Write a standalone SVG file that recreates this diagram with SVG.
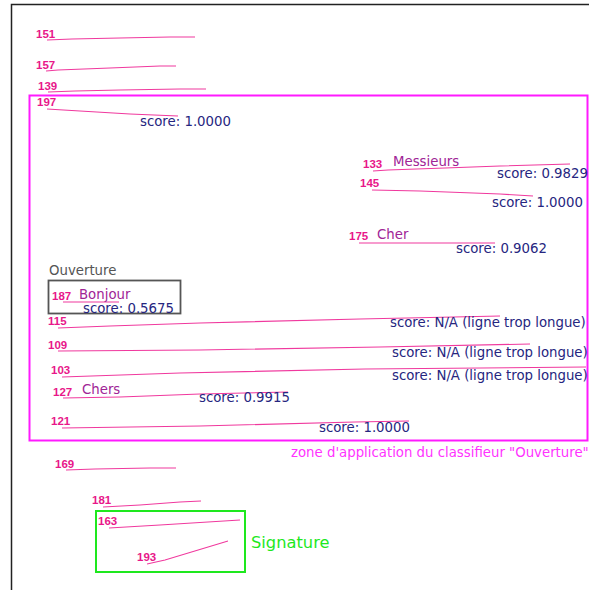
<svg xmlns="http://www.w3.org/2000/svg" width="595" height="590" viewBox="0 0 595 590">
<style>
.n{font-family:"Liberation Sans",Arial,sans-serif;font-weight:bold;font-size:11.5px;fill:#e8178a}
.w{font-family:"DejaVu Sans",sans-serif;font-size:13.3px;fill:#a02596}
.s{font-family:"DejaVu Sans",sans-serif;font-size:13.3px;fill:#262680}
.l{fill:none;stroke:#f0399e;stroke-width:1.1}
</style>
<rect width="595" height="590" fill="#fff"/>
<g id="frame" stroke="#222" stroke-width="1.5" fill="none">
<path d="M11.5,590 V4.5 H589"/>
</g>
<g id="zone-ouverture">
<rect x="29.5" y="95.5" width="558" height="345" fill="none" stroke="#ff1aff" stroke-width="2"/>
<text x="291" y="457" font-family="DejaVu Sans,sans-serif" font-size="13.3" fill="#ff33ff">zone d'application du classifieur "Ouverture"</text>
</g>
<g id="zone-bonjour">
<rect x="48.5" y="280.5" width="132" height="33" fill="none" stroke="#555" stroke-width="1.8"/>
<text x="49" y="275" font-family="DejaVu Sans,sans-serif" font-size="13.3" fill="#555">Ouverture</text>
</g>
<g id="zone-signature">
<rect x="96" y="511" width="149" height="61" fill="none" stroke="#1ee81e" stroke-width="2"/>
<text x="251" y="548" font-family="DejaVu Sans,sans-serif" font-size="16.3" fill="#1ee81e">Signature</text>
</g>
<g id="connectors">
<polyline class="l" points="47,40 72,39 120,38 170,37 195,37"/>
<polyline class="l" points="46,71 58,70 110,68 160,66 176,66"/>
<polyline class="l" points="48,92 75,91 120,90 180,89 206,89"/>
<polyline class="l" points="47,109 80,111 130,114 178,116"/>
<polyline class="l" points="373,171 388,170 445,168 500,166 570,164"/>
<polyline class="l" points="372,190 420,191 500,194 533,196"/>
<polyline class="l" points="359,243 427,243 495,243"/>
<polyline class="l" points="63,302 119,302"/>
<polyline class="l" points="58,328 110,326 200,323 360,319 500,316"/>
<polyline class="l" points="58,351 200,350 380,347 530,344"/>
<polyline class="l" points="62,377 180,373 365,369 586,367"/>
<polyline class="l" points="63,398 120,397 200,394 288,392"/>
<polyline class="l" points="62,428 200,426 355,422 409,421"/>
<polyline class="l" points="66,470 95,469 150,468 176,468"/>
<polyline class="l" points="103,507 140,505 180,502 201,501"/>
<polyline class="l" points="109,528 160,525 240,520"/>
<polyline class="l" points="147,564 165,560 228,541"/>
</g>
<g id="l151"><text class="n" x="36" y="38">151</text></g>
<g id="l157"><text class="n" x="36" y="69">157</text></g>
<g id="l139"><text class="n" x="38" y="90">139</text></g>
<g id="l197"><text class="n" x="37" y="106">197</text><text class="s" x="140" y="126">score: 1.0000</text></g>
<g id="l133"><text class="n" x="363" y="168">133</text><text class="w" x="393" y="166">Messieurs</text><text class="s" x="497" y="178">score: 0.9829</text></g>
<g id="l145"><text class="n" x="360" y="187">145</text><text class="s" x="492" y="207">score: 1.0000</text></g>
<g id="l175"><text class="n" x="349" y="240">175</text><text class="w" x="377" y="239">Cher</text><text class="s" x="456" y="253">score: 0.9062</text></g>
<g id="l187"><text class="n" x="52" y="300">187</text><text class="w" x="79" y="299">Bonjour</text><text class="s" x="83" y="313">score: 0.5675</text></g>
<g id="l115"><text class="n" x="48" y="325">115</text><text class="s" x="390" y="327">score: N/A (ligne trop longue)</text></g>
<g id="l109"><text class="n" x="48" y="349">109</text><text class="s" x="392" y="357">score: N/A (ligne trop longue)</text></g>
<g id="l103"><text class="n" x="51" y="374">103</text><text class="s" x="392" y="380">score: N/A (ligne trop longue)</text></g>
<g id="l127"><text class="n" x="53" y="396">127</text><text class="w" x="82" y="394">Chers</text><text class="s" x="199" y="402">score: 0.9915</text></g>
<g id="l121"><text class="n" x="51" y="425">121</text><text class="s" x="319" y="432">score: 1.0000</text></g>
<g id="l169"><text class="n" x="55" y="468">169</text></g>
<g id="l181"><text class="n" x="92" y="504">181</text></g>
<g id="l163"><text class="n" x="98" y="525">163</text></g>
<g id="l193"><text class="n" x="137" y="561">193</text></g>
</svg>
